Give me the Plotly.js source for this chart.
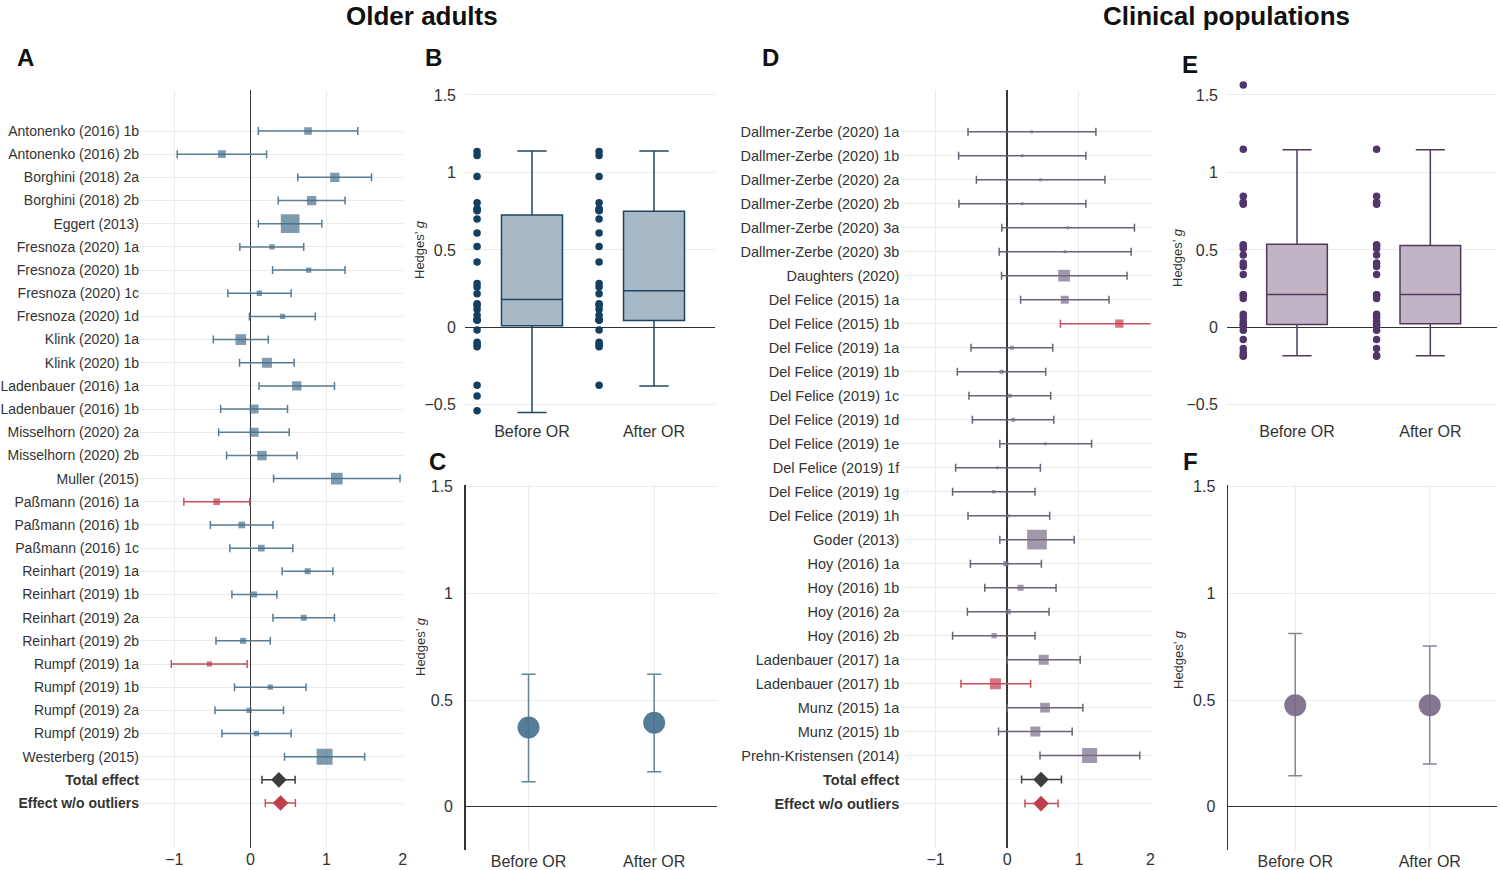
<!DOCTYPE html>
<html><head><meta charset="utf-8">
<script src="https://cdn.plot.ly/plotly-3.0.1.min.js"></script>
<style>html,body{margin:0;padding:0;background:#fff}#chart{width:1500px;height:870px}</style>
</head><body><div id="chart"></div><script>
// ---------- Panel A: older adults, forest plot ----------
const studiesA = ["Antonenko (2016) 1b","Antonenko (2016) 2b","Borghini (2018) 2a","Borghini (2018) 2b","Eggert (2013)","Fresnoza (2020) 1a","Fresnoza (2020) 1b","Fresnoza (2020) 1c","Fresnoza (2020) 1d","Klink (2020) 1a","Klink (2020) 1b","Ladenbauer (2016) 1a","Ladenbauer (2016) 1b","Misselhorn (2020) 2a","Misselhorn (2020) 2b","Muller (2015)","Paßmann (2016) 1a","Paßmann (2016) 1b","Paßmann (2016) 1c","Reinhart (2019) 1a","Reinhart (2019) 1b","Reinhart (2019) 2a","Reinhart (2019) 2b","Rumpf (2019) 1a","Rumpf (2019) 1b","Rumpf (2019) 2a","Rumpf (2019) 2b","Westerberg (2015)"];
const gA  = [0.757,-0.374,1.109,0.804,0.522,0.283,0.765,0.117,0.422,-0.126,0.217,0.609,0.048,0.048,0.152,1.135,-0.443,-0.113,0.143,0.752,0.048,0.700,-0.096,-0.539,0.261,-0.017,0.078,0.974];
const loA = [0.104,-0.961,0.622,0.365,0.104,-0.139,0.291,-0.296,-0.013,-0.487,-0.143,0.113,-0.391,-0.417,-0.313,0.304,-0.874,-0.526,-0.270,0.417,-0.243,0.296,-0.452,-1.039,-0.209,-0.465,-0.374,0.448];
const hiA = [1.410,0.213,1.591,1.243,0.939,0.700,1.243,0.535,0.852,0.235,0.574,1.104,0.487,0.509,0.613,1.965,-0.009,0.296,0.557,1.083,0.348,1.104,0.261,-0.043,0.730,0.435,0.535,1.500];
const weightA = [7.7,7.7,9.3,9.3,18.7,5.3,5.3,5.3,5.3,10.7,10,9.3,9,9,9.5,11.7,6.7,6.7,6.7,6,6,6,6,5.3,5.3,5.3,5.3,16];
const outlierA = [0,0,0,0,0,0,0,0,0,0,0,0,0,0,0,0,1,0,0,0,0,0,0,1,0,0,0,0];
const summaryLabels = ["Total effect","Effect w/o outliers"];
const sumGA  = [0.374,0.396];
const sumLoA = [0.152,0.196];
const sumHiA = [0.587,0.591];

// ---------- Panel B: older adults, distribution ----------
const groupLabels = ["Before OR","After OR"];
const boxLowerB = [-0.549,-0.379];
const boxQ1B    = [0.011,0.045];
const boxMedB   = [0.180,0.236];
const boxQ3B    = [0.725,0.750];
const boxUpperB = [1.138,1.138];

// ---------- Panel C: older adults, pooled effect ----------
const pooledGC  = [0.371,0.394];
const pooledLoC = [0.117,0.164];
const pooledHiC = [0.621,0.621];

// ---------- Panel D: clinical populations, forest plot ----------
const studiesD = ["Dallmer-Zerbe (2020) 1a","Dallmer-Zerbe (2020) 1b","Dallmer-Zerbe (2020) 2a","Dallmer-Zerbe (2020) 2b","Dallmer-Zerbe (2020) 3a","Dallmer-Zerbe (2020) 3b","Daughters (2020)","Del Felice (2015) 1a","Del Felice (2015) 1b","Del Felice (2019) 1a","Del Felice (2019) 1b","Del Felice (2019) 1c","Del Felice (2019) 1d","Del Felice (2019) 1e","Del Felice (2019) 1f","Del Felice (2019) 1g","Del Felice (2019) 1h","Goder (2013)","Hoy (2016) 1a","Hoy (2016) 1b","Hoy (2016) 2a","Hoy (2016) 2b","Ladenbauer (2017) 1a","Ladenbauer (2017) 1b","Munz (2015) 1a","Munz (2015) 1b","Prehn-Kristensen (2014)"];
const gD  = [0.341,0.210,0.467,0.210,0.846,0.808,0.794,0.804,1.565,0.065,-0.079,0.037,0.084,0.533,-0.136,-0.187,0.019,0.416,-0.019,0.187,0.014,-0.182,0.509,-0.164,0.528,0.393,1.150];
const loD = [-0.547,-0.678,-0.430,-0.673,-0.075,-0.112,-0.079,0.187,0.743,-0.505,-0.696,-0.533,-0.486,-0.103,-0.720,-0.762,-0.547,-0.103,-0.514,-0.313,-0.556,-0.762,0.000,-0.645,0.000,-0.121,0.458];
const hiD = [1.238,1.098,1.364,1.098,1.776,1.729,1.673,1.421,2.390,0.636,0.537,0.607,0.650,1.178,0.463,0.388,0.593,0.935,0.477,0.682,0.584,0.388,1.019,0.327,1.056,0.907,1.850];
const weightD = [3,3,3,3,3,3,11.7,8,8.3,4,4,4,4,3,3,3.5,3,19.7,5.3,6,5.3,5.3,10,11,9.7,10,15];
const outlierD = [0,0,0,0,0,0,0,0,1,0,0,0,0,0,0,0,0,0,0,0,0,0,0,1,0,0,0];
const sumGD  = [0.472,0.472];
const sumLoD = [0.201,0.248];
const sumHiD = [0.757,0.710];

// ---------- Panel E: clinical, distribution ----------
const boxLowerE = [-0.183,-0.183];
const boxQ1E    = [0.019,0.023];
const boxMedE   = [0.212,0.212];
const boxQ3E    = [0.536,0.529];
const boxUpperE = [1.147,1.147];

// ---------- Panel F: clinical, pooled effect ----------
const pooledGF  = [0.476,0.476];
const pooledLoF = [0.145,0.200];
const pooledHiF = [0.812,0.753];

// ---------- styling ----------
const FONT = "Liberation Sans, Arial, Helvetica, sans-serif";
const TXT = "#333333";
const GRID = "#ebebeb";
const RED_M = "#c03f4e", RED_L = "#c4505d";
const W = 1500, H = 870;
const px = v => v / W;
const py = v => 1 - v / H;

const traces = [];

function forest(names, g, lo, hi, wt, out, sG, sLo, sHi, xa, ya, mCol, lCol) {
  const groups = [[0, mCol, lCol], [1, RED_M, RED_L]];
  groups.forEach(([flag, mc, lc]) => {
    const idx = names.map((_, i) => i).filter(i => out[i] === flag);
    traces.push({
      type: "scatter", mode: "markers", xaxis: xa, yaxis: ya, showlegend: false,
      x: idx.map(i => g[i]), y: idx,
      text: idx.map(i => names[i]), hoverinfo: "text+x",
      marker: {symbol: "square", size: idx.map(i => wt[i]), color: mc, line: {width: 0}},
      error_x: {type: "data", symmetric: false,
        array: idx.map(i => hi[i] - g[i]), arrayminus: idx.map(i => g[i] - lo[i]),
        color: lc, thickness: 1.5, width: 4}
    });
  });
  const n = names.length;
  [["#3d3d3d", "#3d3d3d"], [RED_M, RED_L]].forEach(([mc, lc], k) => {
    traces.push({
      type: "scatter", mode: "markers", xaxis: xa, yaxis: ya, showlegend: false,
      x: [sG[k]], y: [n + k], text: [summaryLabels[k]], hoverinfo: "text+x",
      marker: {symbol: "diamond", size: 12, color: mc, line: {width: 0}},
      error_x: {type: "data", symmetric: false, array: [sHi[k] - sG[k]], arrayminus: [sG[k] - sLo[k]],
        color: lc, thickness: 1.5, width: 4}
    });
  });
}

forest(studiesA, gA, loA, hiA, weightA, outlierA, sumGA, sumLoA, sumHiA, "x", "y", "#476f8c", "#587c94");
forest(studiesD, gD, loD, hiD, weightD, outlierD, sumGD, sumLoD, sumHiD, "x4", "y4", "#7a6c87", "#6b6275");

function boxPanel(lower, q1, med, q3, upper, before, after, boxW, ptOff, xa, ya, fill, lineC, ptC) {
  traces.push({
    type: "box", xaxis: xa, yaxis: ya, showlegend: false,
    x: [0, 1], lowerfence: lower, q1: q1, median: med, q3: q3, upperfence: upper,
    width: boxW, whiskerwidth: 0.48, boxpoints: false,
    fillcolor: fill, line: {color: lineC, width: 1.5}
  });
  [[before, 0], [after, 1]].forEach(([vals, pos]) => {
    traces.push({
      type: "scatter", mode: "markers", xaxis: xa, yaxis: ya, showlegend: false,
      x: vals.map(() => pos + ptOff), y: vals, hoverinfo: "y",
      marker: {size: 7.5, color: ptC}
    });
  });
}
const afterA = gA.filter((_, i) => !outlierA[i]);
const afterD = gD.filter((_, i) => !outlierD[i]);
boxPanel(boxLowerB, boxQ1B, boxMedB, boxQ3B, boxUpperB, gA, afterA, 0.5, -0.45, "x2", "y2", "#a7b8c6", "#1e4564", "#133f60");
boxPanel(boxLowerE, boxQ1E, boxMedE, boxQ3E, boxUpperE, gD, afterD, 0.455, -0.403, "x5", "y5", "#c1b5c5", "#4f3a5c", "#52366a");

function pooled(gv, lo, hi, xa, ya, mc, lc) {
  traces.push({
    type: "scatter", mode: "markers", xaxis: xa, yaxis: ya, showlegend: false,
    x: [0, 1], y: gv, hoverinfo: "y",
    marker: {size: 22, color: mc},
    error_y: {type: "data", symmetric: false, array: gv.map((v, i) => hi[i] - v), arrayminus: gv.map((v, i) => v - lo[i]),
      color: lc, thickness: 1.5, width: 7}
  });
}
pooled(pooledGC, pooledLoC, pooledHiC, "x3", "y3", "rgba(72,114,143,0.92)", "#61849b");
pooled(pooledGF, pooledLoF, pooledHiF, "x6", "y6", "rgba(122,105,135,0.92)", "#8e8297");

// ---------- axes ----------
const tickFont = {family: FONT, size: 16, color: TXT};
function forestX(d0, d1, ya) {
  return {domain: [px(d0), px(d1)], range: [-1.45, 2.0], anchor: ya, tickvals: [-1, 0, 1, 2],
    showgrid: true, gridcolor: GRID, gridwidth: 1, zeroline: true, zerolinecolor: "#3a3a3a", zerolinewidth: 1.5,
    showline: false, ticks: "", tickfont: tickFont, fixedrange: true};
}
function forestY(names, r0, r1, xa, fs, so) {
  const n = names.length;
  return {domain: [py(848), py(90)], range: [r0, r1], anchor: xa,
    tickvals: names.map((_, i) => i).concat([n, n + 1]),
    ticktext: names.concat(summaryLabels.map(s => "<b>" + s + "</b>")),
    showgrid: true, gridcolor: GRID, gridwidth: 1, zeroline: false, showline: false, ticks: "",
    ticklabelstandoff: so,
    tickfont: {family: FONT, size: fs, color: TXT}, fixedrange: true};
}
function catX(d0, d1, r0, grid, ya) {
  return {domain: [px(d0), px(d1)], range: [r0, 1.5], anchor: ya, tickvals: [0, 1], ticktext: groupLabels,
    showgrid: grid, gridcolor: GRID, zeroline: false, showline: false, ticks: "", tickfont: tickFont, fixedrange: true};
}
function boxY(xa) {
  return {domain: [py(420.3), py(79.5)], range: [-0.6, 1.6], anchor: xa,
    tickvals: [-0.5, 0, 0.5, 1, 1.5], ticktext: ["\u22120.5", "0", "0.5", "1", "1.5"],
    showgrid: true, gridcolor: GRID, zeroline: true, zerolinecolor: "#333", zerolinewidth: 1.5,
    showline: false, ticks: "", ticklabelstandoff: 8, tickfont: tickFont, fixedrange: true};
}
function pooledY(xa) {
  return {domain: [py(849.6), py(485)], range: [-0.201, 1.508], anchor: xa,
    tickvals: [0, 0.5, 1, 1.5], ticktext: ["0", "0.5", "1", "1.5"],
    showgrid: true, gridcolor: GRID, zeroline: true, zerolinecolor: "#333", zerolinewidth: 1.5,
    showline: true, linecolor: "#333", linewidth: 1.5, ticks: "", ticklabelstandoff: 8,
    tickfont: tickFont, fixedrange: true};
}

const ann = [];
function addText(t, x, y, size, extra) {
  ann.push(Object.assign({text: t, x: px(x), y: py(y), xref: "paper", yref: "paper",
    showarrow: false, xanchor: "center", yanchor: "middle",
    font: {family: FONT, size: size, color: "#111"}}, extra || {}));
}
addText("<b>Older adults</b>", 422, 16, 26);
addText("<b>Clinical populations</b>", 1226, 16, 26);
addText("<b>A</b>", 25, 57, 24);
addText("<b>B</b>", 433, 57, 24);
addText("<b>C</b>", 437, 462, 24);
addText("<b>D</b>", 770, 57, 24);
addText("<b>E</b>", 1190, 65, 24);
addText("<b>F</b>", 1190, 462, 24);
const yTitle = "Hedges\u2019 <i>g</i>";
[[420, 250], [420, 647], [1178, 258], [1178, 660]].forEach(([x, y]) =>
  addText(yTitle, x, y, 13, {textangle: -90, font: {family: FONT, size: 13, color: TXT}}));

const layout = {
  width: W, height: H, autosize: false,
  margin: {l: 0, r: 0, t: 0, b: 0, pad: 0},
  paper_bgcolor: "#fff", plot_bgcolor: "#fff",
  font: {family: FONT, color: TXT},
  showlegend: false,
  xaxis: forestX(140, 402.7, "y"),
  yaxis: forestY(studiesA, 30.94, -1.77, "x", 14, 0),
  xaxis2: catX(465, 715, -0.549, false, "y2"),
  yaxis2: boxY("x2"),
  xaxis3: catX(465.7, 717, -0.5, true, "y3"),
  yaxis3: pooledY("x3"),
  xaxis4: forestX(903.3, 1150.5, "y4"),
  yaxis4: forestY(studiesD, 29.85, -1.74, "x4", 14.5, 3),
  xaxis5: catX(1227, 1497, -0.525, false, "y5"),
  yaxis5: boxY("x5"),
  xaxis6: catX(1228, 1497, -0.5, true, "y6"),
  yaxis6: pooledY("x6"),
  annotations: ann
};

Plotly.newPlot("chart", traces, layout, {displayModeBar: false, staticPlot: true});
</script></body></html>
